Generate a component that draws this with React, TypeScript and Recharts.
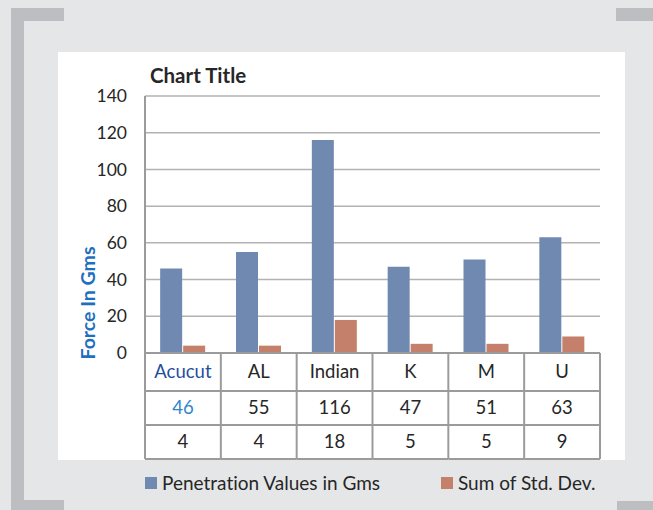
import React from "react";
import { BarChart, Bar, XAxis, YAxis, CartesianGrid, Label } from "recharts";

const categories = ["Acucut", "AL", "Indian", "K", "M", "U"];
const penetration = [46, 55, 116, 47, 51, 63];
const stdDev = [4, 4, 18, 5, 5, 9];
const yTicks = [0, 20, 40, 60, 80, 100, 120, 140];

const W = 653;
const H = 510;
const M = { top: 96, right: 53, bottom: 51, left: 60 };
const Y_AXIS_W = 85;
const PLOT_LEFT = M.left + Y_AXIS_W;
const PLOT_W = W - PLOT_LEFT - M.right;
const PLOT_BOTTOM = 353;
const COL_W = PLOT_W / categories.length;
const ROWS = [38, 34, 34];

const FONT = "Lato, 'Open Sans', sans-serif";
const TEXT = "#262626";
const BLUE = "#7089b1";
const ORANGE = "#c5806b";
const BORDER = "#9b9b9b";
const BRACKET = "#bdbec1";
const CELL_FONT = 18.5;

const data = categories.map((c, i) => ({
  name: c,
  penetration: penetration[i],
  stdDev: stdDev[i],
}));

const TableTick = (props: any) => {
  const { payload } = props;
  const i = payload.index ?? categories.indexOf(payload.value);
  const cx = payload.coordinate;
  const left = cx - COL_W / 2;
  const right = cx + COL_W / 2;
  const y0 = PLOT_BOTTOM;
  const y1 = y0 + ROWS[0];
  const y2 = y1 + ROWS[1];
  const y3 = y2 + ROWS[2];
  const first = i === 0;
  return (
    <g>
      {first && <line x1={left} x2={left} y1={y0} y2={y3} stroke={BORDER} strokeWidth={2} />}
      <line x1={right} x2={right} y1={y0} y2={y3} stroke={BORDER} strokeWidth={2} />
      <line x1={left} x2={right} y1={y1} y2={y1} stroke={BORDER} strokeWidth={2} />
      <line x1={left} x2={right} y1={y2} y2={y2} stroke={BORDER} strokeWidth={2} />
      <line x1={left} x2={right} y1={y3} y2={y3} stroke={BORDER} strokeWidth={2} />
      <text x={cx} y={(y0 + y1) / 2} dy="0.35em" textAnchor="middle" fontSize={CELL_FONT} fontFamily={FONT} fill={first ? "#1f4f9c" : TEXT}>
        {payload.value}
      </text>
      <text x={cx} y={(y1 + y2) / 2} dy="0.35em" textAnchor="middle" fontSize={CELL_FONT} fontFamily={FONT} fill={first ? "#2f87c9" : TEXT}>
        {penetration[i]}
      </text>
      <text x={cx} y={(y2 + y3) / 2} dy="0.35em" textAnchor="middle" fontSize={CELL_FONT} fontFamily={FONT} fill={TEXT}>
        {stdDev[i]}
      </text>
    </g>
  );
};

const YLabel = () => (
  <text
    x={88}
    y={303}
    transform="rotate(-90 88 303)"
    textAnchor="middle"
    dy="0.35em"
    fontSize={19.5}
    fontWeight="bold"
    fontFamily={FONT}
    fill="#1f6fc0"
  >
    Force In Gms
  </text>
);

const box = (l: number, t: number, w: number, h: number, bg: string): React.CSSProperties => ({
  position: "absolute",
  left: l,
  top: t,
  width: w,
  height: h,
  background: bg,
});

const App = () => {
  return (
    <div
      style={{
        position: "absolute",
        left: 0,
        top: 0,
        width: W,
        height: H,
        background: "#e5e6e8",
        overflow: "hidden",
        fontFamily: FONT,
        fontVariantLigatures: "none",
      }}
    >
      <div style={box(11, 8, 13, 502, BRACKET)} />
      <div style={box(11, 8, 53, 13, BRACKET)} />
      <div style={box(11, 500, 53, 10, BRACKET)} />
      <div style={box(616, 8, 37, 13, BRACKET)} />
      <div style={box(617, 501, 36, 9, BRACKET)} />
      <div style={box(58, 52, 567, 408, "#ffffff")} />
      <div style={{ position: "absolute", left: 150, top: 62, fontSize: 20.5, fontWeight: "bold", color: TEXT, lineHeight: "26px" }}>
        Chart Title
      </div>
      <div style={{ position: "absolute", left: 0, top: 0 }}>
        <BarChart width={W} height={H} data={data} margin={M} barCategoryGap="20%" barGap={1}>
          <CartesianGrid vertical={false} stroke="#b2b2b2" strokeWidth={1.5} />
          <XAxis
            dataKey="name"
            height={106}
            axisLine={{ stroke: BORDER, strokeWidth: 2 }}
            tickLine={false}
            interval={0}
            tick={<TableTick />}
          />
          <YAxis
            width={Y_AXIS_W}
            domain={[0, 140]}
            ticks={yTicks}
            interval={0}
            axisLine={{ stroke: BORDER, strokeWidth: 2 }}
            tickLine={false}
            tickMargin={12}
            tick={{ fill: TEXT, fontSize: 17.5, fontFamily: FONT }}
          >
            <Label content={<YLabel />} />
          </YAxis>
          <Bar dataKey="penetration" fill={BLUE} isAnimationActive={false} />
          <Bar dataKey="stdDev" fill={ORANGE} isAnimationActive={false} />
        </BarChart>
      </div>
      <div style={box(145, 477, 12, 12, BLUE)} />
      <div style={{ position: "absolute", left: 162, top: 471, fontSize: 19, color: TEXT, lineHeight: "24px" }}>
        Penetration Values in Gms
      </div>
      <div style={box(441, 477, 12, 12, ORANGE)} />
      <div style={{ position: "absolute", left: 458, top: 471, fontSize: 19, color: TEXT, lineHeight: "24px" }}>
        Sum of Std. Dev.
      </div>
    </div>
  );
};

export default App;
